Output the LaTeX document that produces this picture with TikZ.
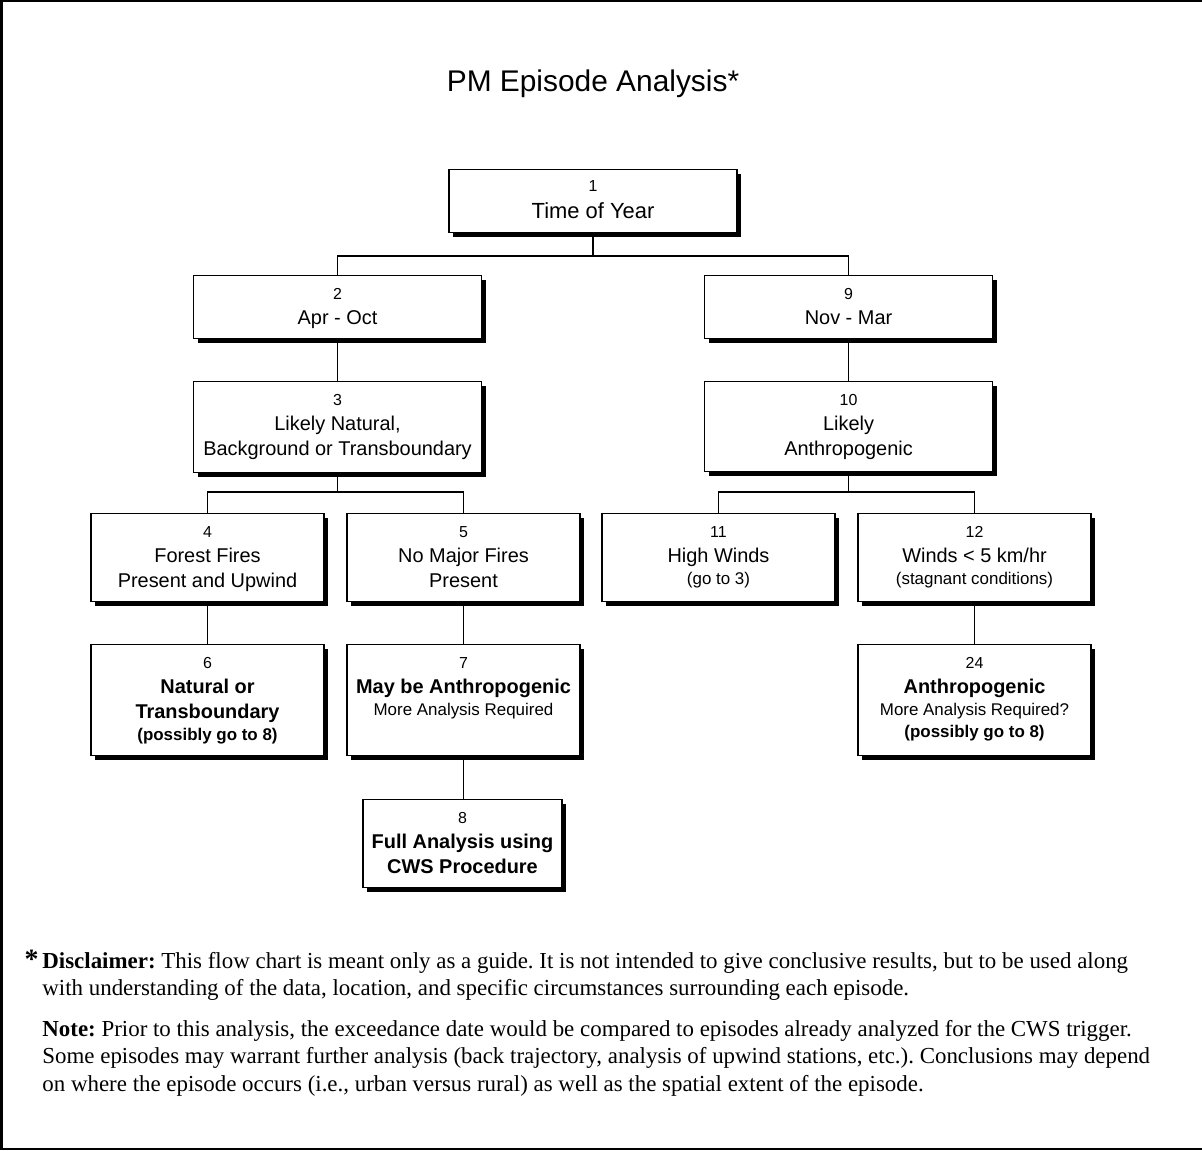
\documentclass[tikz,border=0pt]{standalone}
\usepackage{fontspec}
\setmainfont{Liberation Serif}
\setsansfont{Liberation Sans}
\usepackage{tikz}
\usetikzlibrary{positioning, shadows, calc}

\newcommand{\numfont}{\fontsize{8}{10}\selectfont}
\newcommand{\smallfont}{\fontsize{8.5}{11}\selectfont}
% rows of a box, baseline on the first row
\newcommand{\rows}[1]{\begin{tabular}[t]{@{}c@{}}#1\end{tabular}}
\newcommand{\leftrows}[1]{\begin{tabular}[t]{@{}l@{}}#1\end{tabular}}

\begin{document}
\begin{tikzpicture}[
  x=0.5bp, y=-0.5bp,
  box/.style={draw, fill=white, line width=0.6bp, inner sep=0pt, anchor=north,
              text height=12bp,
              font=\sffamily\fontsize{10}{12.6}\selectfont,
              general shadow={fill=black, shadow xshift=2.2bp, shadow yshift=-2.2bp}},
  wide/.style={box, minimum width=144bp},
  mid/.style={box, minimum width=116.5bp},
  narrow/.style={box, minimum width=99.5bp},
  link/.style={draw, line width=0.6bp},
  notes/.style={anchor=base west, inner sep=0pt,
                font=\fontsize{11.5}{14}\selectfont\frenchspacing},
]
  \useasboundingbox (0,0) rectangle (1202,1151);
  % frame
  \draw[line width=1.2bp] (1202,1) -- (1.5,1) -- (1.5,1149) -- (1202,1149);

  % title
  \node[font=\sffamily\fontsize{15}{18}\selectfont, anchor=base] (title) at (593,92) {PM Episode Analysis*};

  % boxes
  \node[wide, text height=11bp, text depth=20.5bp, font=\sffamily\fontsize{11}{13.5}\selectfont] (b1) at (593,169)
    {\rows{{\numfont 1}\\Time of Year}};
  \node[wide, text depth=19.5bp] (b2) at (337.5,275) {\rows{{\numfont 2}\\Apr - Oct}};
  \node[wide, text depth=19.5bp] (b9) at (848.5,275) {\rows{{\numfont 9}\\Nov - Mar}};
  \node[wide, text depth=33.5bp] (b3) at (337.5,381)
    {\rows{{\numfont 3}\\Likely Natural,\\Background or Transboundary}};
  \node[wide, text depth=33bp] (b10) at (848.5,381)
    {\rows{{\numfont 10}\\Likely\\Anthropogenic}};
  \node[mid, text depth=32bp] (b4) at (207.5,513) {\rows{{\numfont 4}\\Forest Fires\\Present and Upwind}};
  \node[mid, text depth=32bp] (b5) at (463.5,513) {\rows{{\numfont 5}\\No Major Fires\\Present}};
  \node[mid, text depth=32bp] (b11) at (718.5,513)
    {\rows{{\numfont 11}\\High Winds\\[-1.5bp]{\smallfont (go to 3)}}};
  \node[mid, text depth=32bp] (b12) at (974.5,513)
    {\rows{{\numfont 12}\\Winds < 5 km/hr\\[-1.5bp]{\smallfont (stagnant conditions)}}};
  \node[mid, text depth=43.5bp] (b6) at (207.5,644)
    {\rows{{\numfont 6}\\\textbf{Natural or}\\\textbf{Transboundary}\\[-1.5bp]{\smallfont\bfseries (possibly go to 8)}}};
  \node[mid, text depth=43.5bp] (b7) at (463.5,644)
    {\rows{{\numfont 7}\\\textbf{May be Anthropogenic}\\[-1.5bp]{\smallfont More Analysis Required}}};
  \node[mid, text depth=43.5bp] (b24) at (974.5,644)
    {\rows{{\numfont 24}\\\textbf{Anthropogenic}\\[-1.5bp]{\smallfont More Analysis Required?}\\[-1.5bp]{\smallfont\bfseries (possibly go to 8)}}};
  \node[narrow, text depth=32bp] (b8) at (462.5,799)
    {\rows{{\numfont 8}\\\textbf{Full Analysis using}\\\textbf{CWS Procedure}}};

  % connectors
  \coordinate (j1) at (593,256);
  \coordinate (j3) at (337.5,492);
  \coordinate (j10) at (848.5,492);
  \draw[link] (b1.south) -- (j1);
  \draw[link] (j1) -| (b2.north);
  \draw[link] (j1) -| (b9.north);
  \draw[link] (b2) -- (b3);
  \draw[link] (b9) -- (b10);
  \draw[link] (b3.south) -- (j3);
  \draw[link] (j3) -| (b4.north);
  \draw[link] (j3) -| (b5.north);
  \draw[link] (b10.south) -- (j10);
  \draw[link] (j10) -| (b11.north);
  \draw[link] (j10) -| (b12.north);
  \draw[link] (b4) -- (b6);
  \draw[link] (b5) -- (b7);
  \draw[link] (b12) -- (b24);
  \draw[link] (b7.south) -- (b8.north -| b7.south);

  % notes
  \node[notes] (disc) at (42,968)
    {\leftrows{\llap{{\fontsize{14}{14}\selectfont\bfseries *}\,}\textbf{Disclaimer:} This flow chart is meant only as a guide. It is not intended to give conclusive results, but to be used along\\
     with understanding of the data, location, and specific circumstances surrounding each episode.}};
  \node[notes] (note) at (42,1036)
    {\leftrows{\textbf{Note:} Prior to this analysis, the exceedance date would be compared to episodes already analyzed for the CWS trigger.\\
     Some episodes may warrant further analysis (back trajectory, analysis of upwind stations, etc.). Conclusions may depend\\
     on where the episode occurs (i.e., urban versus rural) as well as the spatial extent of the episode.}};
\end{tikzpicture}
\end{document}
